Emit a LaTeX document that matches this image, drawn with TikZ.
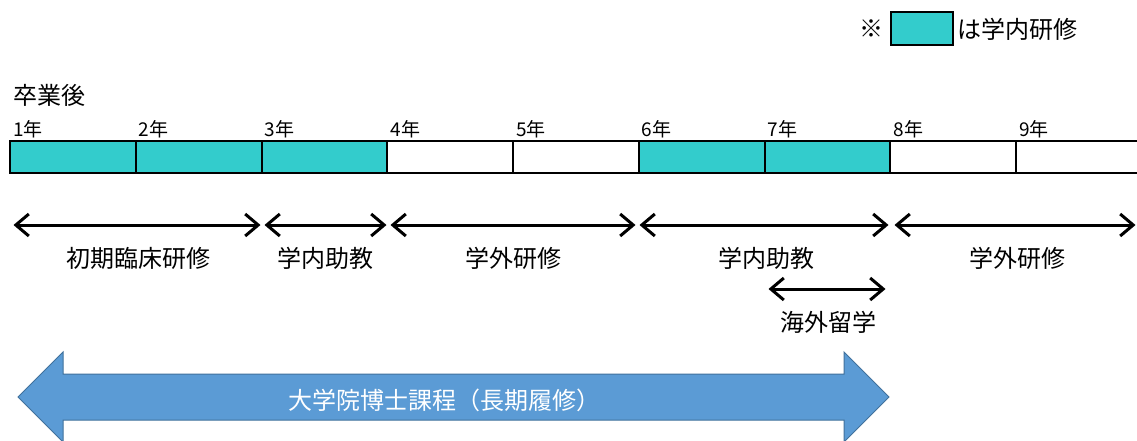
\documentclass[tikz,border=0pt]{standalone}
\usepackage{fontspec}
\setmainfont{Noto Sans CJK JP}
\usetikzlibrary{arrows.meta}
\definecolor{cyanfill}{HTML}{33CCCC}
\definecolor{bluefill}{HTML}{5B9BD5}
\definecolor{blueedge}{HTML}{41719C}
\tikzset{
  cell/.style={draw=black, line width=2pt, minimum width=125.75pt, minimum height=32pt, inner sep=0pt, outer sep=0pt},
  yearlbl/.style={anchor=west, inner sep=0pt, font=\fontsize{19}{19}\selectfont},
  lbl/.style={inner sep=0pt, font=\fontsize{24}{24}\selectfont},
  span/.style={line width=3pt, {Straight Barb[length=13pt,width=22pt,line width=3pt]}-{Straight Barb[length=13pt,width=22pt,line width=3pt]}, shorten <=1.5pt, shorten >=1.5pt}
}
\begin{document}
\begin{tikzpicture}[x=1pt,y=-1pt]
\clip (0,0) rectangle (1137,440);
\fill[white] (0,0) rectangle (1137,440);
% legend
\node[lbl] (kome) at (871,29) {※};
\node[draw=black, line width=1.5pt, fill=cyanfill, minimum width=62pt, minimum height=33pt, inner sep=0pt] (legbox) at (922,28.5) {};
\node[lbl, anchor=west] (legtxt) at (957,29) {は学内研修};
% header
\node[lbl, anchor=west] (sotsu) at (13,95) {卒業後};
% cells
\foreach \i/\f in {1/cyanfill,2/cyanfill,3/cyanfill,4/white,5/white,6/cyanfill,7/cyanfill,8/white,9/white}{
  \node[cell, fill=\f] (c\i) at ({10+(\i-0.5)*125.75},157) {};
  \node[yearlbl] (y\i) at ({13+(\i-1)*125.75},129) {\i 年};
}
% span arrows
\coordinate (p0) at (12,225);
\coordinate (p1a) at (262,225);
\coordinate (p1b) at (263,225);
\coordinate (p2a) at (388,225);
\coordinate (p2b) at (389,225);
\coordinate (p3a) at (637,225);
\coordinate (p3b) at (638,225);
\coordinate (p4a) at (890,225);
\coordinate (p4b) at (893,225);
\coordinate (p5) at (1137,225);
\draw[span] (p0) -- (p1a);
\draw[span] (p1b) -- (p2a);
\draw[span] (p2b) -- (p3a);
\draw[span] (p3b) -- (p4a);
\draw[span] (p4b) -- (p5);
\node[lbl] (l1) at (138,258) {初期臨床研修};
\node[lbl] (l2) at (325,258) {学内助教};
\node[lbl] (l3) at (513,258) {学外研修};
\node[lbl] (l4) at (766,258) {学内助教};
\node[lbl] (l5) at (1017,258) {学外研修};
% abroad
\coordinate (q0) at (767,289);
\coordinate (q1) at (887,289);
\draw[span] (q0) -- (q1);
\node[lbl] (l6) at (828,322) {海外留学};
% doctoral double arrow
\draw[fill=bluefill, draw=blueedge, line width=1pt]
  (18,397) -- (63,352) -- (63,374) -- (844,374) -- (844,352) -- (889,397)
  -- (844,442) -- (844,420) -- (63,420) -- (63,442) -- cycle;
\node[lbl, text=white] (phd) at (444,400) {大学院博士課程（長期履修）};
\end{tikzpicture}
\end{document}
